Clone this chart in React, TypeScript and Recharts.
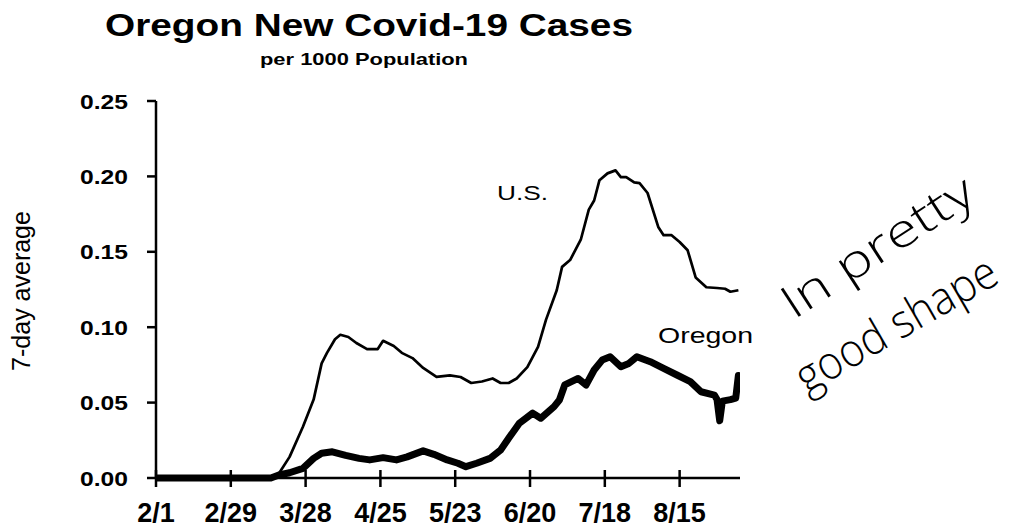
import { Line, LineChart, XAxis, YAxis } from 'recharts'

// days counted from 2/1/2020
const tickDays = [0, 28, 56, 84, 112, 140, 168, 196]
const tickLabels = ['2/1', '2/29', '3/28', '4/25', '5/23', '6/20', '7/18', '8/15']
const valueTicks = [0, 0.05, 0.1, 0.15, 0.2, 0.25]

const usDays = [
  0, 20, 40, 43, 46, 50, 55, 59, 62, 64, 67, 69, 72, 75, 79, 83, 85, 89, 92, 96, 100, 105, 110, 114,
  118, 122, 126, 129, 132, 135, 139, 143, 146, 150, 152, 155, 159, 162, 164, 166, 169, 172, 174, 176,
  179, 181, 184, 188, 190, 193, 196, 199, 202, 206, 210, 213, 215, 218,
]
const usValues = [
  0, 0, 0.0005, 0.001, 0.003, 0.014, 0.034, 0.052, 0.076, 0.083, 0.092, 0.095, 0.0935, 0.0895, 0.0855,
  0.0855, 0.091, 0.0875, 0.083, 0.0795, 0.073, 0.067, 0.068, 0.067, 0.063, 0.064, 0.066, 0.063, 0.063,
  0.066, 0.0735, 0.087, 0.105, 0.1245, 0.14, 0.1445, 0.158, 0.178, 0.184, 0.1975, 0.202, 0.204, 0.1995,
  0.1995, 0.196, 0.1955, 0.189, 0.1665, 0.161, 0.161, 0.1565, 0.151, 0.133, 0.1265, 0.126, 0.1255,
  0.1235, 0.1245,
]

const orDays = [
  0, 20, 40, 43, 46, 50, 55, 59, 62, 66, 71, 76, 80, 85, 90, 94, 100, 104, 109, 113, 116, 120, 125, 129,
  132, 136, 141, 144, 149, 151, 153, 158, 161, 164, 167, 170, 174, 177, 180, 185, 190, 195, 200, 204,
  209, 210, 211, 212, 215, 217, 218,
]
const orValues = [
  0, 0, 0, 0, 0.002, 0.0035, 0.0064, 0.013, 0.0164, 0.0174, 0.015, 0.013, 0.012, 0.0135, 0.012, 0.014,
  0.018, 0.0157, 0.012, 0.0098, 0.0075, 0.0098, 0.013, 0.0186, 0.0263, 0.0363, 0.043, 0.0396, 0.0473,
  0.0517, 0.0617, 0.066, 0.0617, 0.0716, 0.0782, 0.0804, 0.0738, 0.076, 0.0804, 0.0771, 0.0727, 0.0683,
  0.0639, 0.0572, 0.055, 0.052, 0.038, 0.051, 0.052, 0.053, 0.068,
]

const usData = usDays.map((day, i) => ({ day, value: usValues[i] }))
const orData = orDays.map((day, i) => ({ day, value: orValues[i] }))

const sans = '"Liberation Sans", Arial, Helvetica, sans-serif'
const hand = '"Open Sans", "DejaVu Sans", sans-serif'

function DateTick({ x, y, payload }: any) {
  const label = tickLabels[tickDays.indexOf(payload.value)]
  return (
    <g>
      <line x1={x} x2={x} y1={y - 8} y2={y + 9} stroke="#000" strokeWidth={2.5} />
      <text x={x} y={y + 44} textAnchor="middle" fontSize={27} fontWeight="bold" fontFamily={sans} fill="#000">
        {label}
      </text>
    </g>
  )
}

function ValueTick({ x, y, payload }: any) {
  return (
    <g>
      <line x1={x - 9} x2={x} y1={y} y2={y} stroke="#000" strokeWidth={2.5} />
      <text
        x={x - 28}
        y={y + 7.5}
        textAnchor="end"
        fontSize={21}
        fontWeight="bold"
        fontFamily={sans}
        fill="#000"
        textLength={48}
        lengthAdjust="spacingAndGlyphs"
      >
        {payload.value.toFixed(2)}
      </text>
    </g>
  )
}

export default function App() {
  return (
    <LineChart width={1018} height={519} margin={{ top: 93, right: 286, bottom: 0, left: 0 }}>
      <XAxis
        dataKey="day"
        type="number"
        domain={[0, 218.6]}
        ticks={tickDays}
        interval={0}
        tickSize={0}
        tickMargin={0}
        tickLine={false}
        tick={<DateTick />}
        axisLine={{ stroke: '#000', strokeWidth: 2.5 }}
        height={49}
        allowDataOverflow
      />
      <YAxis
        type="number"
        domain={[0, 0.25]}
        ticks={valueTicks}
        interval={0}
        tickSize={0}
        tickMargin={0}
        tickLine={false}
        tick={<ValueTick />}
        axisLine={{ stroke: '#000', strokeWidth: 2.5 }}
        width={148}
      />
      <Line
        data={usData}
        dataKey="value"
        type="linear"
        stroke="#000"
        strokeWidth={2.7}
        strokeLinejoin="round"
        dot={false}
        isAnimationActive={false}
      />
      <Line
        data={orData}
        dataKey="value"
        type="linear"
        stroke="#000"
        strokeWidth={7}
        strokeLinejoin="round"
        strokeLinecap="round"
        dot={false}
        isAnimationActive={false}
      />

      <text x={361} y={28} textAnchor="middle" fontSize={32} fontWeight="bold" fontFamily={sans}
        textLength={528} lengthAdjust="spacingAndGlyphs">
        Oregon New Covid-19 Cases
      </text>
      <text x={356} y={57} textAnchor="middle" fontSize={17} fontWeight="bold" fontFamily={sans}
        textLength={208} lengthAdjust="spacingAndGlyphs">
        per 1000 Population
      </text>
      <text transform="translate(22,283) rotate(-90)" textAnchor="middle" fontSize={25} fontFamily={sans}>
        7-day average
      </text>
      <text x={489} y={192} fontSize={21} fontFamily={sans} textLength={51} lengthAdjust="spacingAndGlyphs">
        U.S.
      </text>
      <text x={650} y={335} fontSize={22} fontFamily={sans} textLength={95} lengthAdjust="spacingAndGlyphs">
        Oregon
      </text>

      {/* handwritten note */}
      <text transform="translate(878,252) rotate(-33)" textAnchor="middle" fontSize={46}
        fontFamily={hand} fontWeight={300} textLength={220} lengthAdjust="spacingAndGlyphs">
        In pretty
      </text>
      <text transform="translate(896,330) rotate(-30)" textAnchor="middle" fontSize={46}
        fontFamily={hand} fontWeight={300} textLength={225} lengthAdjust="spacingAndGlyphs">
        good shape
      </text>
    </LineChart>
  )
}
